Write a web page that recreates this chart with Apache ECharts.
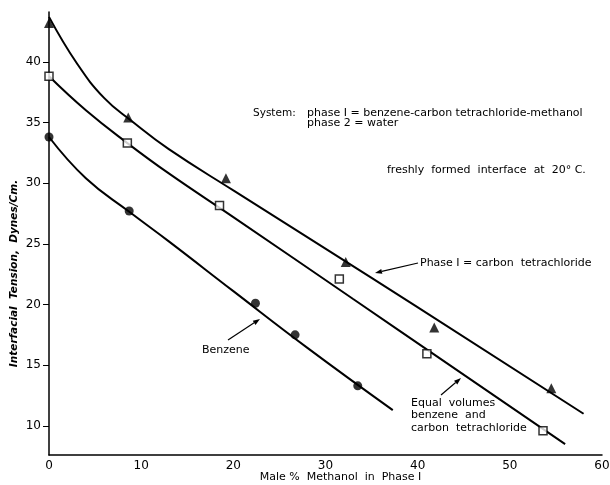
<!DOCTYPE html>
<html>
<head>
<meta charset="utf-8">
<script src="https://cdn.jsdelivr.net/npm/echarts@6/dist/echarts.min.js"></script>
<style>html,body{margin:0;padding:0;background:#fff;overflow:hidden}#c{width:610px;height:485px}</style>
</head>
<body>
<div id="c"></div>
<script>
// ---- data ----
var xTicks = [0, 10, 20, 30, 40, 50, 60];
var yTicks = [10, 15, 20, 25, 30, 35, 40];

// measured points: [mole % methanol, interfacial tension]
var ccl4Points = [[0, 43.2], [8.6, 35.4], [19.2, 30.4], [32.2, 23.5], [41.8, 18.1], [54.5, 13.1]];
var equalPoints = [[0, 38.8], [8.5, 33.3], [18.5, 28.15], [31.5, 22.1], [41.0, 15.95], [53.6, 9.6]];
var benzenePoints = [[0, 33.8], [8.7, 27.7], [22.4, 20.1], [26.7, 17.5], [33.5, 13.3]];

// drawn curves
var ccl4Curve = [[0, 43.7], [3, 39.9], [6, 37.0], [9, 35.1], [13, 32.8], [20, 29.4], [35, 22.2], [58, 11.0]];
var equalCurve = [[0, 38.8], [4, 36.0], [8.5, 33.3], [13, 30.8], [20, 27.2], [33, 20.45], [56, 8.5]];
var benzeneCurve = [[0, 33.8], [4, 30.4], [8.6, 27.7], [13, 25.2], [20, 21.1], [28, 16.45], [37.3, 11.3]];

var chart = echarts.init(document.getElementById('c'), null, {renderer: 'canvas', width: 610, height: 485});
var FONT = 'DejaVu Sans';

function arrow(x1, y1, x2, y2) {
  var a = Math.atan2(y2 - y1, x2 - x1), L = 7, W = 2.5;
  var bx = x2 - L * Math.cos(a), by = y2 - L * Math.sin(a);
  return [
    {type: 'line', shape: {x1: x1, y1: y1, x2: bx, y2: by}, style: {stroke: '#000', lineWidth: 1.2}, z: 100},
    {type: 'polygon', shape: {points: [[x2, y2], [bx + W * Math.sin(a), by - W * Math.cos(a)], [bx - W * Math.sin(a), by + W * Math.cos(a)]]}, style: {fill: '#000'}, z: 100}
  ];
}
function txt(x, y, s, size) {
  return {type: 'text', x: x, y: y, z: 100, style: {text: s, font: (size || 11) + 'px "' + FONT + '"', fill: '#000', verticalAlign: 'middle', align: 'left'}};
}

var graphics = [
  txt(253, 113, 'System:', 10.5),
  txt(307, 113, 'phase I = benzene-carbon tetrachloride-methanol'),
  txt(307, 123, 'phase 2 = water'),
  txt(387, 170, 'freshly  formed  interface  at  20° C.'),
  txt(420, 263, 'Phase I = carbon  tetrachloride'),
  txt(202, 350, 'Benzene'),
  txt(411, 403, 'Equal  volumes'),
  txt(411, 415.5, 'benzene  and'),
  txt(411, 428, 'carbon  tetrachloride')
].concat(arrow(418, 263, 375, 273), arrow(228, 340, 260, 319), arrow(441, 395, 461, 378));

var lineStyle = {color: '#000', width: 2};
chart.setOption({
  animation: false,
  backgroundColor: '#fff',
  grid: {left: 49, top: 12, width: 553, height: 443, containLabel: false, outerBoundsMode: 'none'},
  xAxis: {
    type: 'value', min: xTicks[0], max: xTicks[xTicks.length - 1], interval: 10,
    name: 'Male %  Methanol  in  Phase I', nameLocation: 'middle', nameGap: 17, nameMoveOverlap: false,
    nameTextStyle: {color: '#000', fontFamily: FONT, fontSize: 11, padding: [0, 0, 0, 30]},
    axisLine: {lineStyle: {color: '#000', width: 1.5}},
    axisTick: {show: false},
    axisLabel: {color: '#000', fontFamily: FONT, fontSize: 12, margin: 5},
    splitLine: {show: false}
  },
  yAxis: {
    type: 'value', min: 7.6, max: 44.1,
    name: 'Interfacial  Tension,  Dynes/Cm.', nameLocation: 'middle', nameGap: 29, nameMoveOverlap: false,
    nameTextStyle: {color: '#000', fontFamily: FONT, fontSize: 10.5, fontStyle: 'italic', fontWeight: 'bold', padding: [0, 80, 0, 0]},
    axisLine: {show: true, lineStyle: {color: '#000', width: 1.5}},
    axisTick: {show: true, length: 6, customValues: yTicks, lineStyle: {color: '#000'}},
    axisLabel: {color: '#000', fontFamily: FONT, fontSize: 12, margin: 8, customValues: yTicks},
    splitLine: {show: false}
  },
  series: [
    {type: 'line', data: ccl4Curve, smooth: 0.45, showSymbol: false, lineStyle: lineStyle, z: 2},
    {type: 'line', data: equalCurve, smooth: 0.45, showSymbol: false, lineStyle: lineStyle, z: 2},
    {type: 'line', data: benzeneCurve, smooth: 0.45, showSymbol: false, lineStyle: lineStyle, z: 2},
    {type: 'scatter', data: ccl4Points, symbol: 'triangle', symbolSize: 10, itemStyle: {color: '#000'}, z: 5},
    {type: 'scatter', data: equalPoints, symbol: 'rect', symbolSize: 8, itemStyle: {color: '#fff', borderColor: '#000', borderWidth: 1.5}, z: 5},
    {type: 'scatter', data: benzenePoints, symbol: 'circle', symbolSize: 9, itemStyle: {color: '#000'}, z: 5}
  ],
  graphic: graphics
});
</script>
</body>
</html>
